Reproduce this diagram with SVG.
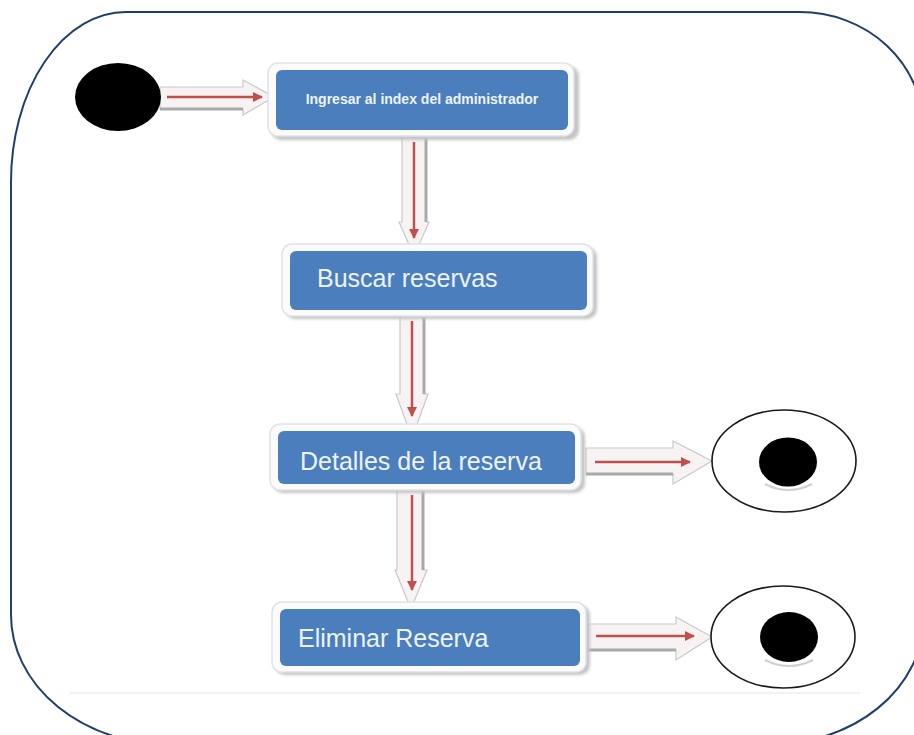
<svg xmlns="http://www.w3.org/2000/svg" width="914" height="735" viewBox="0 0 914 735">
  <defs>
    <marker id="redHead" viewBox="0 0 10 10" refX="9" refY="5" markerWidth="4" markerHeight="4" orient="auto" markerUnits="strokeWidth">
      <path d="M0,0 L10,5 L0,10 Z" fill="#c0504d"/>
    </marker>
    <filter id="soft" x="-10%" y="-10%" width="120%" height="130%">
      <feGaussianBlur stdDeviation="1.5"/>
    </filter>
  </defs>
  <style>
    .frame { fill: none; stroke: #1f3f6b; stroke-width: 2; }
    .glow { fill: #fbfbfb; stroke: #dfe3e8; stroke-width: 1.5; }
    .shadow { fill: #c4c4c4; }
    .box { fill: #4a7ebd; }
    .label { font-family: "Liberation Sans", Arial, sans-serif; fill: #eef3fa; font-size: 25px; }
    .small { font-size: 14px; font-weight: bold; }
    .block { fill: #f7f3f3; stroke: #c9c9c9; stroke-width: 1.2; }
    .blockShade { fill: none; stroke: #a9a9a9; stroke-width: 3; }
    .flow { fill: none; stroke: #c0504d; stroke-width: 2.5; marker-end: url(#redHead); }
    .ring { fill: #ffffff; stroke: #1a1a1a; stroke-width: 1.6; }
    .dot { fill: #000000; }
  </style>

  <rect width="914" height="735" fill="#ffffff"/>

  <!-- rounded outer border -->
  <path class="frame" d="M126 12 L800 12 A123 115 0 0 1 923 127 L923 620 A155 125 0 0 1 768 745 L172 745 A161 130 0 0 1 11 615 L11 182 A115 170 0 0 1 126 12 Z"/>

  <!-- faint lower edge of the drawing area -->
  <line x1="70" y1="693" x2="860" y2="693" stroke="#ececec" stroke-width="1.5"/>

  <!-- connectors -->
  <g id="connectors">
    <!-- start -> Ingresar -->
    <path class="block" d="M160 87 L243 87 L243 80 L274 97 L243 115 L243 109 L160 109 Z"/>
    <line class="blockShade" x1="160" y1="109" x2="243" y2="109"/>
    <line class="flow" x1="167" y1="97" x2="262" y2="97"/>

    <!-- Ingresar -> Buscar -->
    <path class="block" d="M402 137 L426 137 L426 222 L429 222 L414 256 L399 222 L402 222 Z"/>
    <line class="blockShade" x1="426" y1="137" x2="426" y2="222"/>
    <line class="flow" x1="414" y1="142" x2="414" y2="238"/>

    <!-- Buscar -> Detalles -->
    <path class="block" d="M400 316 L424 316 L424 394 L428 394 L412 438 L396 394 L400 394 Z"/>
    <line class="blockShade" x1="424" y1="316" x2="424" y2="394"/>
    <line class="flow" x1="412" y1="321" x2="412" y2="416"/>

    <!-- Detalles -> Eliminar -->
    <path class="block" d="M397 490 L423 490 L423 570 L427 570 L411 609 L395 570 L397 570 Z"/>
    <line class="blockShade" x1="423" y1="490" x2="423" y2="570"/>
    <line class="flow" x1="412" y1="495" x2="412" y2="590"/>

    <!-- Detalles -> end -->
    <path class="block" d="M586 448 L673 448 L673 441 L712 461 L673 484 L673 474 L586 474 Z"/>
    <line class="blockShade" x1="586" y1="474" x2="673" y2="474"/>
    <line class="flow" x1="595" y1="462" x2="690" y2="462"/>

    <!-- Eliminar -> end -->
    <path class="block" d="M588 624 L676 624 L676 617 L712 637 L676 660 L676 650 L588 650 Z"/>
    <line class="blockShade" x1="588" y1="650" x2="676" y2="650"/>
    <line class="flow" x1="596" y1="636" x2="694" y2="636"/>
  </g>

  <!-- initial state -->
  <g id="start">
    <ellipse class="dot" cx="118" cy="97" rx="43" ry="34"/>
  </g>

  <!-- activities -->
  <g id="ingresar">
    <rect class="shadow" x="271" y="66" width="308" height="74" rx="10" filter="url(#soft)"/>
    <rect class="glow" x="268" y="63" width="306" height="73" rx="10"/>
    <rect class="box" x="276" y="70" width="292" height="60" rx="6"/>
    <text class="label small" x="422" y="104" text-anchor="middle">Ingresar al index del administrador</text>
  </g>

  <g id="buscar">
    <rect class="shadow" x="285" y="247" width="312" height="72" rx="10" filter="url(#soft)"/>
    <rect class="glow" x="282" y="244" width="311" height="72" rx="10"/>
    <rect class="box" x="290" y="251" width="297" height="59" rx="6"/>
    <text class="label" x="317" y="287">Buscar reservas</text>
  </g>

  <g id="detalles">
    <rect class="shadow" x="273" y="427" width="312" height="66" rx="10" filter="url(#soft)"/>
    <rect class="glow" x="270" y="424" width="311" height="66" rx="10"/>
    <rect class="box" x="278" y="431" width="297" height="53" rx="6"/>
    <text class="label" x="300" y="470">Detalles de la reserva</text>
  </g>

  <g id="eliminar">
    <rect class="shadow" x="275" y="605" width="315" height="70" rx="10" filter="url(#soft)"/>
    <rect class="glow" x="272" y="602" width="314" height="70" rx="10"/>
    <rect class="box" x="280" y="609" width="300" height="57" rx="6"/>
    <text class="label" x="298" y="647">Eliminar Reserva</text>
  </g>

  <!-- final states -->
  <g id="end1">
    <ellipse class="ring" cx="784" cy="461" rx="72" ry="51"/>
    <path d="M765 484 Q788 496 812 484" fill="none" stroke="#d0d0d0" stroke-width="2"/>
    <ellipse class="dot" cx="788" cy="462" rx="29" ry="24.5"/>
  </g>

  <g id="end2">
    <ellipse class="ring" cx="783" cy="637" rx="72" ry="51"/>
    <path d="M765 660 Q789 672 813 660" fill="none" stroke="#d0d0d0" stroke-width="2"/>
    <ellipse class="dot" cx="789" cy="637" rx="29" ry="25"/>
  </g>
</svg>
